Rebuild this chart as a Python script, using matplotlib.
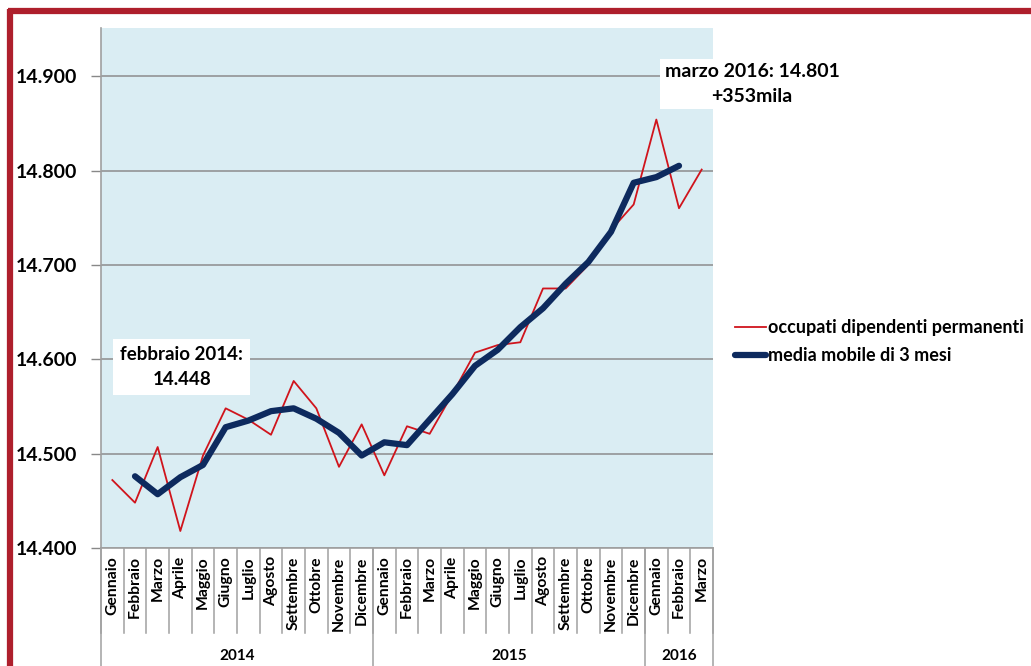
import matplotlib
matplotlib.use("Agg")
import matplotlib.pyplot as plt
from matplotlib.lines import Line2D
import matplotlib.transforms as mtransforms

months = ["Gennaio", "Febbraio", "Marzo", "Aprile", "Maggio", "Giugno", "Luglio",
          "Agosto", "Settembre", "Ottobre", "Novembre", "Dicembre",
          "Gennaio", "Febbraio", "Marzo", "Aprile", "Maggio", "Giugno", "Luglio",
          "Agosto", "Settembre", "Ottobre", "Novembre", "Dicembre",
          "Gennaio", "Febbraio", "Marzo"]
years = ["2014", "2015", "2016"]
year_counts = [12, 12, 3]

occupati = [14472, 14448, 14507, 14418, 14498, 14548, 14536, 14520, 14577, 14548,
            14486, 14531, 14477, 14529, 14521, 14563, 14607, 14615, 14618, 14675,
            14675, 14700, 14737, 14764, 14854, 14760, 14801]
media_mobile = [None, 14476, 14457, 14475, 14488, 14528, 14535, 14545, 14548, 14537,
                14522, 14498, 14512, 14509, 14536, 14563, 14593, 14610, 14634, 14654,
                14680, 14703, 14735, 14787, 14793, 14805, None]

yticks = [14400, 14500, 14600, 14700, 14800, 14900]
ytick_labels = ["14.400", "14.500", "14.600", "14.700", "14.800", "14.900"]

FONT = "Lato"
plt.rcParams["font.family"] = [FONT, "DejaVu Sans"]
plt.rcParams["font.weight"] = "bold"

fig = plt.figure(figsize=(10.31, 6.66), dpi=100)
ax = fig.add_axes([101 / 1031, 118 / 666, 612 / 1031, 520 / 666])
ax.set_facecolor("#DAEDF3")

n = len(months)
x = list(range(n))
ax.plot(x, occupati, color="#D0141C", lw=1.3, label="occupati dipendenti permanenti", zorder=3)
mx = [i for i, v in enumerate(media_mobile) if v is not None]
my = [v for v in media_mobile if v is not None]
ax.plot(mx, my, color="#0D2A5E", lw=4.5, solid_capstyle="round", solid_joinstyle="round",
        label="media mobile di 3 mesi", zorder=4)

ax.set_xlim(-0.5, n - 0.5)
ax.set_ylim(14400, 14951)
ax.set_yticks(yticks)
ax.set_yticklabels(ytick_labels, fontsize=14, fontweight="bold")
ax.tick_params(axis="y", length=7, color="#888888", width=1, pad=10)
ax.yaxis.grid(True, color="#8C8C8C", lw=1.1)
ax.set_axisbelow(True)

ax.set_xticks(x)
ax.set_xticklabels(months, rotation=90, fontsize=11.3, fontweight="bold", va="top")
ax.tick_params(axis="x", length=0, pad=6)

for s in ["top", "right"]:
    ax.spines[s].set_visible(False)
ax.spines["left"].set_color("#A0A0A0")
ax.spines["left"].set_linewidth(1.2)
ax.spines["bottom"].set_color("#A0A0A0")
ax.spines["bottom"].set_linewidth(1.2)

trans = mtransforms.blended_transform_factory(ax.transData, ax.transAxes)
# month separators
for b in range(n + 1):
    ax.add_line(Line2D([b - 0.5, b - 0.5], [0, -0.163], transform=trans, color="#A0A0A0",
                       lw=1.1, clip_on=False))
# year separators and labels
start = 0
for yl, c in zip(years, year_counts):
    ax.add_line(Line2D([start - 0.5, start - 0.5], [0, -0.24], transform=trans,
                       color="#A0A0A0", lw=1.1, clip_on=False))
    ax.text(start - 0.5 + c / 2, -0.207, yl, transform=trans, ha="center", va="center",
            fontsize=11, fontweight="bold")
    start += c
ax.add_line(Line2D([start - 0.5, start - 0.5], [0, -0.24], transform=trans,
                   color="#A0A0A0", lw=1.1, clip_on=False))

# annotations
ax.text(0.132, 0.348, "febbraio 2014:\n14.448", transform=ax.transAxes, ha="center",
        va="center", fontsize=13.5, fontweight="bold", linespacing=1.55,
        bbox=dict(facecolor="white", edgecolor="none", pad=5))
fig.text(752 / 1031, 1 - 84 / 666, "marzo 2016: 14.801\n+353mila", ha="center",
         va="center", fontsize=14, fontweight="bold", linespacing=1.6,
         bbox=dict(facecolor="white", edgecolor="none", pad=3))

leg = fig.legend(loc="upper left", bbox_to_anchor=(728 / 1031, 1 - 312 / 666), frameon=False,
                 prop={"family": [FONT, "DejaVu Sans"], "weight": "bold", "size": 13},
                 handlelength=1.7, handletextpad=0.1, labelspacing=0.6, borderaxespad=0)

# red frame
red = "#AE1F2C"
fig.add_artist(Line2D([8 / 1031, 1.0], [1 - 11 / 666, 1 - 11 / 666], transform=fig.transFigure,
                      color=red, lw=4.5, solid_capstyle="butt"))
fig.add_artist(Line2D([10 / 1031, 10 / 1031], [0, 1 - 8.5 / 666], transform=fig.transFigure,
                      color=red, lw=4.5, solid_capstyle="butt"))

fig.savefig("out.png", dpi=100)
